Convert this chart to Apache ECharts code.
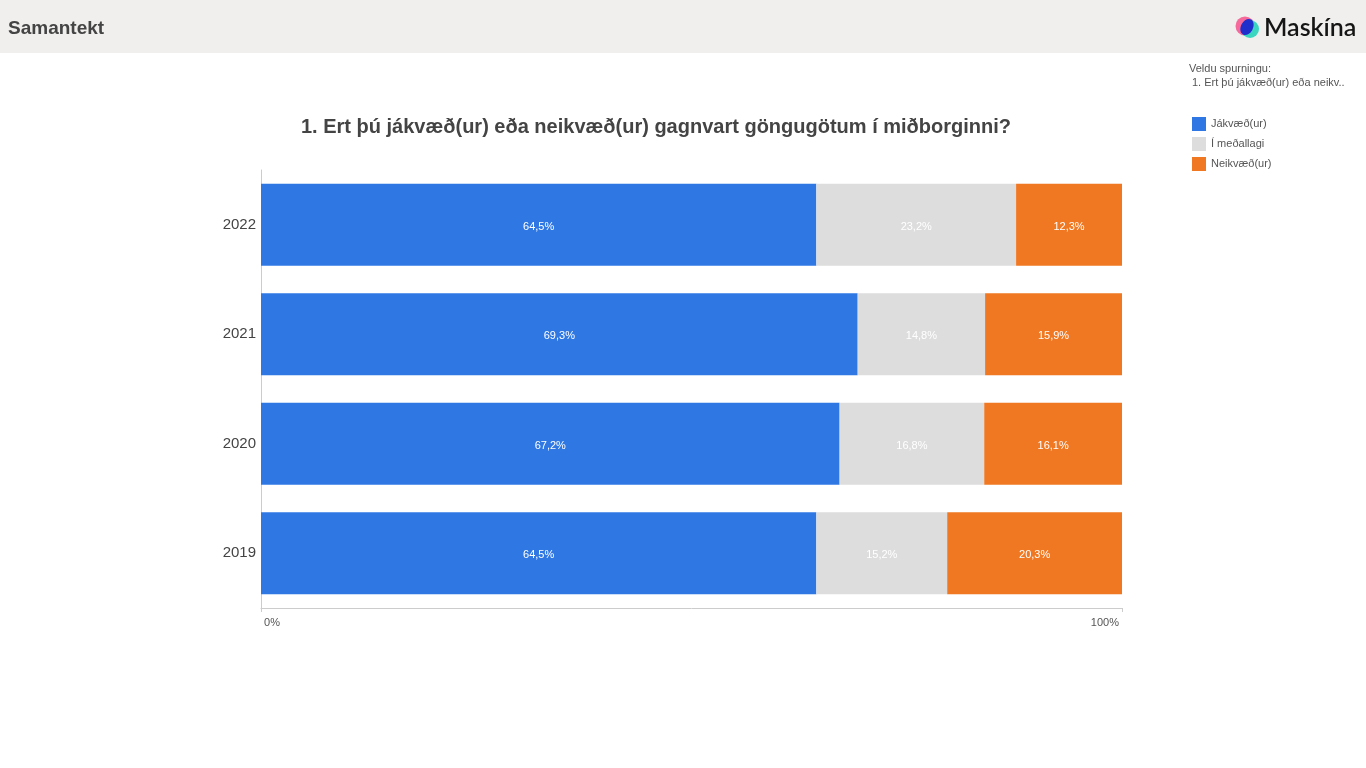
<!doctype html>
<html>
<head>
<meta charset="utf-8">
<title>Samantekt</title>
<style>
  html, body { margin: 0; padding: 0; background: #fff; }
  #main { width: 1366px; height: 768px; }
</style>
</head>
<body>
<div id="main"></div>
<script src="https://cdn.jsdelivr.net/npm/echarts@6/dist/echarts.min.js"></script>
<script>
var years = ['2022', '2021', '2020', '2019'];
var jakvaed = [64.5, 69.3, 67.2, 64.5];
var medallagi = [23.2, 14.8, 16.8, 15.2];
var neikvaed = [12.3, 15.9, 16.1, 20.3];
var xTicks = ['0%', '100%'];

var chart = echarts.init(document.getElementById('main'));

function fmt(p) {
    return p.value.toFixed(1).replace('.', ',') + '%';
}

function barSeries(name, data, color) {
    return {
        name: name,
        type: 'bar',
        stack: 'total',
        barCategoryGap: '25%',
        data: data,
        itemStyle: { color: color },
        label: {
            show: true,
            position: 'inside',
            offset: [0, 2],
            color: '#fff',
            fontSize: 11,
            fontFamily: 'Arial, Liberation Sans, sans-serif',
            formatter: fmt
        },
        emphasis: { disabled: true }
    };
}

chart.setOption({
    animation: false,
    textStyle: { fontFamily: 'Arial, Liberation Sans, sans-serif' },
    title: {
        text: '1. Ert þú jákvæð(ur) eða neikvæð(ur) gagnvart göngugötum í miðborginni?',
        left: 651,
        top: 112,
        textAlign: 'center',
        textStyle: { fontSize: 20, fontWeight: 'bold', color: '#444' }
    },
    legend: {
        orient: 'vertical',
        left: 1187,
        top: 112,
        itemWidth: 14,
        itemHeight: 14,
        itemGap: 6,
        icon: 'rect',
        textStyle: { fontSize: 11, color: '#555' },
        data: ['Jákvæð(ur)', 'Í meðallagi', 'Neikvæð(ur)']
    },
    grid: { left: 261, right: 244, top: 170, bottom: 160 },
    xAxis: {
        type: 'value',
        min: 0,
        max: 100,
        interval: 100,
        splitLine: { show: false },
        axisLine: { show: true, lineStyle: { color: '#ccc' } },
        axisTick: { show: true, length: 4, lineStyle: { color: '#ccc' } },
        axisLabel: {
            color: '#555',
            fontSize: 11,
            margin: 9,
            alignMinLabel: 'left',
            alignMaxLabel: 'right',
            formatter: function (v) { return v === 0 ? ' ' + xTicks[0] : xTicks[1] + ' '; }
        }
    },
    yAxis: {
        type: 'category',
        data: years,
        inverse: true,
        axisLine: { show: true, lineStyle: { color: '#ccc' } },
        axisTick: { show: false },
        axisLabel: { color: '#444', fontSize: 15, margin: 5, padding: [8, 0, 0, 0] }
    },
    series: [
        barSeries('Jákvæð(ur)', jakvaed, '#2f78e4'),
        barSeries('Í meðallagi', medallagi, '#dddddd'),
        barSeries('Neikvæð(ur)', neikvaed, '#f07822')
    ],
    graphic: [
        { type: 'rect', shape: { x: 0, y: 0, width: 1366, height: 53 }, style: { fill: '#f0efed' }, z: -1 },
        { type: 'text', left: 8, top: 19, style: { text: 'Samantekt', font: 'bold 19px Arial, Liberation Sans, sans-serif', fill: '#444' } },
        { type: 'circle', shape: { cx: 1245, cy: 26, r: 9.5 }, style: { fill: '#f56a9a' } },
        { type: 'circle', shape: { cx: 1250, cy: 29, r: 9 }, style: { fill: '#3bd6c0' } },
        { type: 'ellipse', shape: { cx: 1247, cy: 27, rx: 6, ry: 8.5 }, rotation: -0.5, originX: 1247, originY: 27, style: { fill: '#1f2fcc' } },
        { type: 'text', left: 1264, top: 15, style: { text: 'Maskína', font: '600 25px Lato, Roboto, sans-serif', fill: '#151515' } },
        { type: 'text', left: 1189, top: 63, style: { text: 'Veldu spurningu:', font: '11px Arial, Liberation Sans, sans-serif', fill: '#555' } },
        { type: 'text', left: 1192, top: 77, style: { text: '1. Ert þú jákvæð(ur) eða neikv..', font: '11px Arial, Liberation Sans, sans-serif', fill: '#555' } }
    ]
});

window.onresize = chart.resize;
</script>
</body>
</html>
